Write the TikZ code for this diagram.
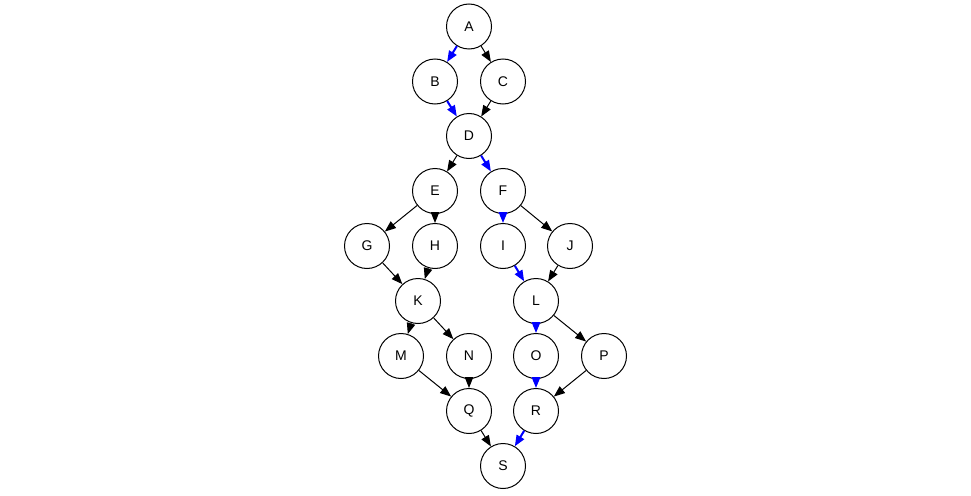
\documentclass[tikz,border=0pt]{standalone}
\usepackage{fontspec}
\setmainfont{Liberation Sans}
\usetikzlibrary{arrows.meta}
\tikzset{vertex/.style={circle, draw, line width=1pt, minimum size=45pt, inner sep=0pt, font=\fontsize{14pt}{16pt}\selectfont},
  link/.style={line width=1pt, -{Triangle[length=11pt,width=8.5pt]}},
  hot/.style={link, blue, line width=2pt}}

\begin{document}
\begin{tikzpicture}[x=1pt,y=-1pt]
  \useasboundingbox[fill=white] (0,0) rectangle (971,495);
  % nodes
  \node[vertex] (A) at (469, 26.5) {A};
  \node[vertex] (B) at (435, 81.5) {B};
  \node[vertex] (C) at (503, 81.5) {C};
  \node[vertex] (D) at (469,136) {D};
  \node[vertex] (E) at (435,191) {E};
  \node[vertex] (F) at (503,191) {F};
  \node[vertex] (G) at (367,246) {G};
  \node[vertex] (H) at (435,246) {H};
  \node[vertex] (I) at (503,246) {I};
  \node[vertex] (J) at (570,246) {J};
  \node[vertex] (K) at (418,301) {K};
  \node[vertex] (L) at (536,301) {L};
  \node[vertex] (M) at (401,356) {M};
  \node[vertex] (N) at (469,356) {N};
  \node[vertex] (O) at (536,356) {O};
  \node[vertex] (P) at (604,356) {P};
  \node[vertex] (Q) at (469,411) {Q};
  \node[vertex] (R) at (536,411) {R};
  \node[vertex] (S) at (503,466) {S};
  % edges
  \begin{scope}[link]
   \draw[hot] (A) -- (B);
   \draw (A) -- (C);
   \draw[hot] (B) -- (D);
   \draw (C) -- (D);
   \draw (D) -- (E);
   \draw[hot] (D) -- (F);
   \draw (E) -- (G);
   \draw (E) -- (H);
   \draw[hot] (F) -- (I);
   \draw (F) -- (J);
   \draw (G) -- (K);
   \draw (H) -- (K);
   \draw[hot] (I) -- (L);
   \draw (J) -- (L);
   \draw (K) -- (M);
   \draw (K) -- (N);
   \draw[hot] (L) -- (O);
   \draw (L) -- (P);
   \draw (M) -- (Q);
   \draw (N) -- (Q);
   \draw[hot] (O) -- (R);
   \draw (P) -- (R);
   \draw (Q) -- (S);
   \draw[hot] (R) -- (S);
  \end{scope}
\end{tikzpicture}
\end{document}
